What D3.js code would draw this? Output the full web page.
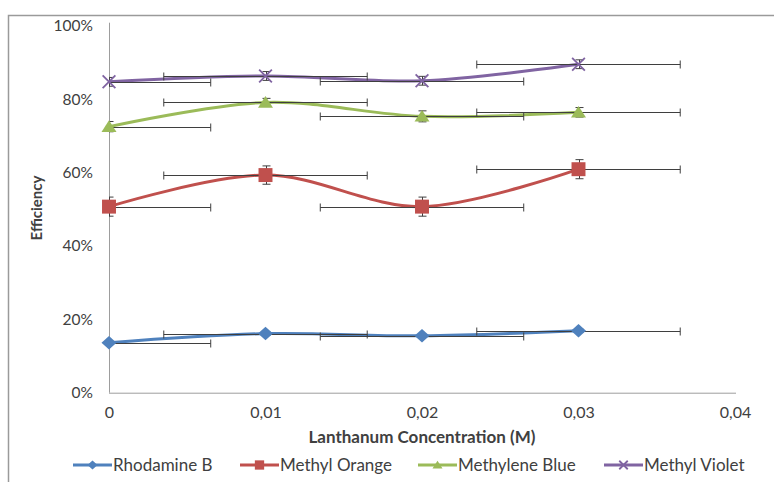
<!DOCTYPE html>
<html>
<head>
<meta charset="utf-8">
<script src="https://cdn.jsdelivr.net/npm/d3@7"></script>
<style>
  html, body { margin: 0; padding: 0; background: #fff; }
  svg { display: block; }
  text { font-family: Lato, "Open Sans", sans-serif; fill: #404040; }
</style>
</head>
<body>
<svg id="chart" width="774" height="482"></svg>
<script>
// Lanthanum concentration (M)
const concentrations = [0, 0.01, 0.02, 0.03];

// Removal efficiency per dye (fraction)
const rhodamineB    = [0.136, 0.161, 0.155, 0.169];
const methylOrange  = [0.507, 0.593, 0.507, 0.609];
const methyleneBlue = [0.725, 0.791, 0.753, 0.764];
const methylViolet  = [0.847, 0.863, 0.850, 0.895];

// Error margins
const xError = 0.0065;
const yErrRhodamine = [0.004, 0.004, 0.004, 0.004];
const yErrOrange    = [0.026, 0.025, 0.026, 0.026];
const yErrBlue      = [0.014, 0.011, 0.015, 0.013];
const yErrViolet    = [0.012, 0.012, 0.012, 0.012];

const seriesNames = ["Rhodamine B", "Methyl Orange", "Methylene Blue", "Methyl Violet"];
const seriesColors = ["#4F81BD", "#C0504D", "#9BBB59", "#8064A2"];
const seriesMarkers = ["diamond", "square", "triangle", "cross"];

const xTicks = [0, 0.01, 0.02, 0.03, 0.04];
const yTicks = [0, 0.2, 0.4, 0.6, 0.8, 1.0];

const series = [
  { values: rhodamineB,    yErr: yErrRhodamine },
  { values: methylOrange,  yErr: yErrOrange },
  { values: methyleneBlue, yErr: yErrBlue },
  { values: methylViolet,  yErr: yErrViolet }
].map((s, i) => ({
  name: seriesNames[i], color: seriesColors[i], marker: seriesMarkers[i],
  points: concentrations.map((c, j) => ({ x: c, y: s.values[j], ey: s.yErr[j] }))
}));

const svg = d3.select("#chart");

// Chart frame
svg.append("path")
  .attr("d", "M8.5,482 V15.5 H774")
  .attr("fill", "none").attr("stroke", "#9a9a9a").attr("stroke-width", 1.5);

const plot = { left: 109, right: 735, top: 25.7, bottom: 392.7 };
const x = d3.scaleLinear().domain([0, 0.04]).range([plot.left, plot.right]);
const y = d3.scaleLinear().domain([0, 1]).range([plot.bottom, plot.top]);

// Axes
const yAxis = svg.append("g").attr("transform", `translate(${plot.left},0)`)
  .call(d3.axisLeft(y).tickValues(yTicks).tickSize(0).tickPadding(16)
    .tickFormat(d => Math.round(d * 100) + "%"));
yAxis.select(".domain").attr("stroke", "#9d9d9d").attr("d", `M0.5,${plot.bottom} V${plot.top - 3}`);
yAxis.selectAll("text").style("font-size", "15.5px").attr("fill", "#404040");

const xAxis = svg.append("g").attr("transform", `translate(0,${plot.bottom})`)
  .call(d3.axisBottom(x).tickValues(xTicks).tickSize(0).tickPadding(14)
    .tickFormat(d => d === 0 ? "0" : d3.format(".2f")(d).replace(".", ",")));
xAxis.select(".domain").attr("stroke", "#9d9d9d").attr("d", `M${plot.left},0.5 H${plot.right + 1}`);
xAxis.selectAll("text").style("font-size", "16px").attr("fill", "#404040");

// Axis titles
svg.append("text")
  .attr("x", 422).attr("y", 443)
  .attr("text-anchor", "middle")
  .style("font-size", "17px").style("font-weight", "bold").attr("fill", "#000")
  .text("Lanthanum Concentration (M)");
svg.append("text")
  .attr("transform", "translate(42,208) rotate(-90)")
  .attr("text-anchor", "middle")
  .style("font-size", "15px").style("font-weight", "bold").attr("fill", "#000")
  .text("Efficiency");

// Clip for error bars that run past the axes
svg.append("clipPath").attr("id", "plot-clip")
  .append("rect").attr("x", plot.left).attr("y", 0)
  .attr("width", plot.right - plot.left + 10).attr("height", plot.bottom);

const line = d3.line().x(d => x(d.x)).y(d => y(d.y)).curve(d3.curveCardinal.tension(0));

function drawMarker(g, type, color, size) {
  const s = size;
  if (type === "diamond") {
    g.append("path").attr("d", `M0,${-s * 0.9} L${s},0 L0,${s * 0.9} L${-s},0 Z`).attr("fill", color);
  } else if (type === "square") {
    g.append("rect").attr("x", -s * 0.93).attr("y", -s * 0.93)
      .attr("width", s * 1.86).attr("height", s * 1.86).attr("fill", color);
  } else if (type === "triangle") {
    g.append("path").attr("d", `M0,${-s * 0.85} L${s},${s * 0.7} L${-s},${s * 0.7} Z`).attr("fill", color);
  } else if (type === "cross") {
    const c = s * 0.85;
    g.append("path").attr("d", `M${-c},${-c} L${c},${c} M${-c},${c} L${c},${-c}`)
      .attr("stroke", color).attr("stroke-width", 1.8).attr("fill", "none");
  }
}

series.forEach(s => {
  const g = svg.append("g");
  g.append("path").datum(s.points)
    .attr("d", line).attr("fill", "none")
    .attr("stroke", s.color).attr("stroke-width", 3);

  // Horizontal error bars
  const eb = g.append("g").attr("clip-path", "url(#plot-clip)")
    .attr("stroke", "#3f3f3f").attr("stroke-width", 1).attr("fill", "none");
  s.points.forEach(p => {
    const yy = Math.round(y(p.y)) + 0.5;
    const x0 = x(p.x - xError), x1 = x(p.x + xError);
    eb.append("path").attr("d", `M${x0},${yy} H${x1} M${x0},${yy - 4} V${yy + 4} M${x1},${yy - 4} V${yy + 4}`);
  });
  // Vertical error bars
  s.points.forEach(p => {
    const xx = Math.round(x(p.x)) + 0.5;
    const y0 = y(p.y - p.ey), y1 = y(p.y + p.ey);
    eb.append("path").attr("d", `M${xx},${y0} V${y1} M${xx - 4},${y0} H${xx + 4} M${xx - 4},${y1} H${xx + 4}`);
  });

  s.points.forEach(p => {
    const m = g.append("g").attr("transform", `translate(${x(p.x)},${y(p.y)})`);
    drawMarker(m, s.marker, s.color, 7.5);
  });
});

// Legend
const legendX = [73, 240, 418, 604];
const legend = svg.append("g");
series.forEach((s, i) => {
  const g = legend.append("g").attr("transform", `translate(${legendX[i]},465)`);
  g.append("line").attr("x1", 0).attr("x2", 39).attr("y1", 0).attr("y2", 0)
    .attr("stroke", s.color).attr("stroke-width", 3);
  const m = g.append("g").attr("transform", "translate(19.5,0)");
  drawMarker(m, s.marker, s.color, 5);
  g.append("text").attr("x", 40).attr("y", 0).attr("dy", "0.35em")
    .style("font-size", "17px").attr("fill", "#1a1a1a").text(s.name);
});
</script>
</body>
</html>
